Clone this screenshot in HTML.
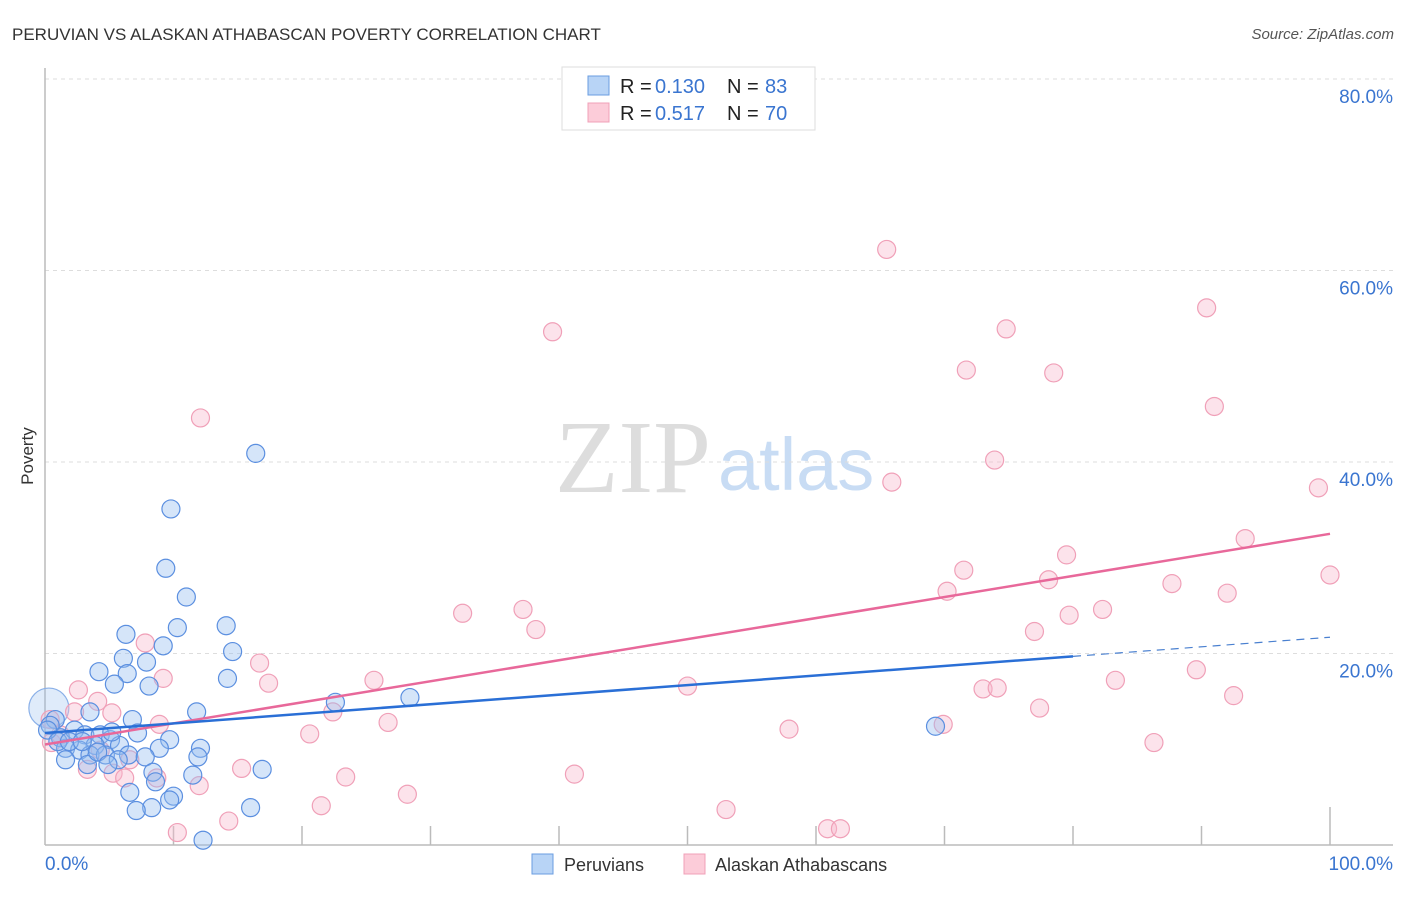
<!DOCTYPE html>
<html><head><meta charset="utf-8"><style>
body{margin:0;background:#fff;font-family:"Liberation Sans",sans-serif}
</style></head><body>
<svg id="c" width="1406" height="892" xmlns="http://www.w3.org/2000/svg">
<text x="12" y="40" font-size="17" fill="#333">PERUVIAN VS ALASKAN ATHABASCAN POVERTY CORRELATION CHART</text>
<text x="1394" y="39" font-size="15" fill="#555" font-style="italic" text-anchor="end">Source: ZipAtlas.com</text>
<text x="33" y="456" font-size="17" fill="#333" text-anchor="middle" transform="rotate(-90 33 456)">Poverty</text>
<g><text x="555" y="492" font-size="104" fill="#ddd" font-family="Liberation Serif">ZIP</text><text x="718" y="490" font-size="74" fill="#c8dcf4">atlas</text></g>
<g id="grid"></g><g id="pts"></g><g id="lines"></g>
<g>
<rect x="562" y="67" width="253" height="63" fill="#fff" stroke="#ddd"/>
<rect x="588" y="76" width="21" height="19" fill="#b8d4f6" stroke="#6a9de0"/>
<rect x="588" y="103" width="21" height="19" fill="#fcccd9" stroke="#f0a0b8"/>
<text x="620" y="93" font-size="20" fill="#222">R =</text><text x="655" y="93" font-size="20" fill="#3a75d0">0.130</text>
<text x="727" y="93" font-size="20" fill="#222">N =</text><text x="765" y="93" font-size="20" fill="#3a75d0">83</text>
<text x="620" y="120" font-size="20" fill="#222">R =</text><text x="655" y="120" font-size="20" fill="#3a75d0">0.517</text>
<text x="727" y="120" font-size="20" fill="#222">N =</text><text x="765" y="120" font-size="20" fill="#3a75d0">70</text>
</g>
<g>
<rect x="532" y="854" width="21" height="20" fill="#b8d4f6" stroke="#6a9de0"/><text x="564" y="871" font-size="18" fill="#333">Peruvians</text>
<rect x="684" y="854" width="21" height="20" fill="#fcccd9" stroke="#f0a0b8"/><text x="715" y="871" font-size="18" fill="#333">Alaskan Athabascans</text>
</g>
</svg>
<script>
const yTicks=[20,40,60,80];
const blueX=[16.4,9.8,9.4,11.0,6.3,10.3,14.1,9.2,14.6,6.1,7.9,4.2,6.4,5.4,8.1,14.2,22.6,28.4,11.8,3.5,6.8,0.8,0.4,7.2,9.7,1.2,2.3,3.1,4.3,5.1,5.8,3.9,1.6,2.7,3.5,4.7,6.5,8.9,12.1,7.8,11.9,5.7,3.3,8.4,11.5,16.9,8.6,6.6,10.0,9.7,8.3,7.1,16.0,12.3,69.3,0.2,1.0,1.9,5.2,2.9,4.1,1.6,4.9];
const blueY=[40.9,35.1,28.9,25.9,22.0,22.7,22.9,20.8,20.2,19.5,19.1,18.1,17.9,16.8,16.6,17.4,14.9,15.4,13.9,13.9,13.1,13.1,12.5,11.7,11.0,11.2,12.0,11.5,11.5,11.0,10.4,10.4,10.1,9.9,9.4,9.4,9.4,10.1,10.1,9.2,9.2,8.9,8.4,7.6,7.3,7.9,6.6,5.5,5.1,4.7,3.9,3.6,3.9,0.5,12.4,12.0,10.8,10.8,11.8,10.8,9.7,8.9,8.4];
const pinkX=[65.5,39.5,74.8,90.4,71.7,78.5,91.0,12.1,73.9,65.9,99.1,93.4,79.5,71.5,78.1,100,70.2,87.7,92.0,32.5,37.2,38.2,79.7,82.3,77.0,7.8,16.7,9.2,17.4,25.6,50.0,73.0,74.1,83.3,89.6,92.5,2.6,4.1,22.4,77.4,26.7,69.9,20.6,57.9,86.3,8.9,2.3,5.2,0.5,15.3,41.2,23.4,3.3,5.3,6.2,8.7,12.0,21.5,28.2,53.0,14.3,10.3,60.9,61.9,1.2,4.3,0.4,6.6];
const pinkY=[62.2,53.6,53.9,56.1,49.6,49.3,45.8,44.6,40.2,37.9,37.3,32.0,30.3,28.7,27.7,28.2,26.5,27.3,26.3,24.2,24.6,22.5,24.0,24.6,22.3,21.1,19.0,17.4,16.9,17.2,16.6,16.3,16.4,17.2,18.3,15.6,16.2,15.0,13.9,14.3,12.8,12.6,11.6,12.1,10.7,12.6,13.9,13.8,10.7,8.0,7.4,7.1,7.9,7.5,7.0,7.0,6.2,4.1,5.3,3.7,2.5,1.3,1.7,1.7,11.5,9.9,13.1,8.9];
const blueTrend=[11.7,21.7];
const pinkTrend=[10.5,32.5];
const NS="http://www.w3.org/2000/svg";
const X=v=>45+v*12.85, Y=v=>845-v*9.575;
function mk(t,a,p){const e=document.createElementNS(NS,t);for(const k in a)e.setAttribute(k,a[k]);p.appendChild(e);return e;}
const g=document.getElementById('grid');
yTicks.forEach(t=>{
 const l=mk('line',{x1:45,x2:1395,y1:Y(t),y2:Y(t),stroke:'#ddd','stroke-dasharray':'4,4'},g);
 
 
 const tx=mk('text',{x:1393,y:Y(t)+24,'font-size':19,fill:'#3a75d0','text-anchor':'end'},g);
 tx.textContent=t.toFixed(1)+'%';
 
 
});
const ax=mk('line',{x1:45,x2:45,y1:68,y2:845,stroke:'#bbb','stroke-width':1.5},g);


const bx=mk('line',{x1:45,x2:1393,y1:845,y2:845,stroke:'#bbb','stroke-width':1.5},g);


for(let i=1;i<=10;i++){const tk=mk('line',{x1:X(i*10),x2:X(i*10),y1:i==10?807:826,y2:845,stroke:'#bbb','stroke-width':1.5},g);
 
 }
const x0=mk('text',{x:45,y:870,'font-size':19,fill:'#3a75d0'},g);x0.textContent='0.0%';


const x1=mk('text',{x:1393,y:870,'font-size':19,fill:'#3a75d0','text-anchor':'end'},g);x1.textContent='100.0%';


const P=document.getElementById('pts');
const big=mk('circle',{cx:X(0.3),cy:Y(14.3),r:20,fill:'rgba(150,190,240,0.3)',stroke:'#8ab0e8','stroke-width':1.2},P);


pinkX.forEach((v,i)=>{const c=mk('circle',{cx:X(v),cy:Y(pinkY[i]),r:9,fill:'rgba(248,185,205,0.4)',stroke:'#f0a0b8','stroke-width':1.2},P);
 
 });
blueX.forEach((v,i)=>{const c=mk('circle',{cx:X(v),cy:Y(blueY[i]),r:9,fill:'rgba(150,190,240,0.4)',stroke:'#5b8fe0','stroke-width':1.2},P);
 
 });
const L=document.getElementById('lines');
const bv=x=>blueTrend[0]+(blueTrend[1]-blueTrend[0])*x/100;
const pl=mk('line',{x1:X(0),y1:Y(pinkTrend[0]),x2:X(100),y2:Y(pinkTrend[1]),stroke:'#e8689a','stroke-width':2.5},L);


const b1=mk('line',{x1:X(0),y1:Y(bv(0)),x2:X(80),y2:Y(bv(80)),stroke:'#2a6fd6','stroke-width':2.5},L);


const b2=mk('line',{x1:X(80),y1:Y(bv(80)),x2:X(100),y2:Y(bv(100)),stroke:'#4a80d0','stroke-width':1.2,'stroke-dasharray':'8,6'},L);


</script>
</body></html>
